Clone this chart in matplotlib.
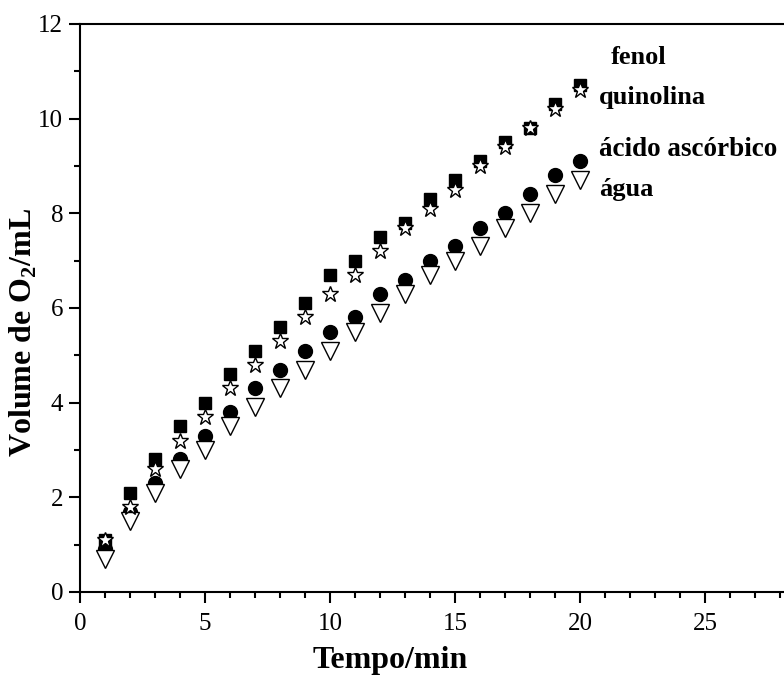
from matplotlib import pyplot
from matplotlib.ticker import MultipleLocator

pyplot.rcParams["font.family"] = ["Liberation Serif", "DejaVu Serif"]
pyplot.rcParams["mathtext.fontset"] = "custom"
pyplot.rcParams["mathtext.rm"] = "Liberation Serif"
pyplot.rcParams["mathtext.bf"] = "Liberation Serif:bold"

tempo = list(range(1, 21))
fenol = [1.1, 2.1, 2.8, 3.5, 4.0, 4.6, 5.1, 5.6, 6.1, 6.7,
         7.0, 7.5, 7.8, 8.3, 8.7, 9.1, 9.5, 9.8, 10.3, 10.7]
quinolina = [1.1, 1.8, 2.6, 3.2, 3.7, 4.3, 4.8, 5.3, 5.8, 6.3,
             6.7, 7.2, 7.7, 8.1, 8.5, 9.0, 9.4, 9.8, 10.2, 10.6]
acido = [0.9, 1.7, 2.3, 2.8, 3.3, 3.8, 4.3, 4.7, 5.1, 5.5,
         5.8, 6.3, 6.6, 7.0, 7.3, 7.7, 8.0, 8.4, 8.8, 9.1]
agua = [0.7, 1.5, 2.1, 2.6, 3.0, 3.5, 3.9, 4.3, 4.7, 5.1,
        5.5, 5.9, 6.3, 6.7, 7.0, 7.3, 7.7, 8.0, 8.4, 8.7]

fig = pyplot.figure(figsize=(7.84, 6.77), dpi=100)
ax = fig.add_axes([0.102, 0.1256, 0.898, 0.839])

ax.plot(tempo, fenol, ls="none", marker="s", ms=8.5,
        color="black", clip_on=False)
ax.plot(tempo, acido, ls="none", marker="o", ms=10,
        color="black", clip_on=False)
ax.plot(tempo, agua, ls="none", marker="v", ms=13, mfc="white",
        mec="black", mew=1, clip_on=False)
ax.plot(tempo, quinolina, ls="none", marker="*", ms=12, mfc="white",
        mec="black", mew=1, clip_on=False)

# etiquetas das séries
ax.text(21.25, 11.3, "fenol", fontsize=19, fontweight="bold",
        va="center", ha="left")
ax.text(20.75, 10.45, "quinolina", fontsize=19, fontweight="bold",
        va="center", ha="left")
ax.text(20.75, 9.35, "ácido ascórbico", fontsize=19.5, fontweight="bold",
        va="center", ha="left")
ax.text(20.75, 8.5, "água", fontsize=19, fontweight="bold",
        va="center", ha="left")

ax.set_xlim(0, 28.16)
ax.set_ylim(0, 12)
ax.xaxis.set_major_locator(MultipleLocator(5))
ax.xaxis.set_minor_locator(MultipleLocator(1))
ax.yaxis.set_major_locator(MultipleLocator(2))
ax.yaxis.set_minor_locator(MultipleLocator(1))
ax.tick_params(which="major", direction="out", length=8, width=1.5,
               labelsize=18, pad=4)
ax.tick_params(axis="x", which="major", pad=7)
ax.tick_params(which="minor", direction="out", length=4, width=1.5)

for side in ["left", "bottom", "top"]:
    ax.spines[side].set_linewidth(1.5)
ax.spines["right"].set_visible(False)

ax.set_xlabel("Tempo/min", fontsize=23, fontweight="bold")
ax.set_ylabel(r"Volume de O$_\mathbf{2}$/mL", fontsize=23,
              fontweight="bold")
ax.xaxis.set_label_coords(0.44, -0.095)
ax.yaxis.set_label_coords(-0.058, 0.458)

pyplot.savefig("out.png", dpi=100)
